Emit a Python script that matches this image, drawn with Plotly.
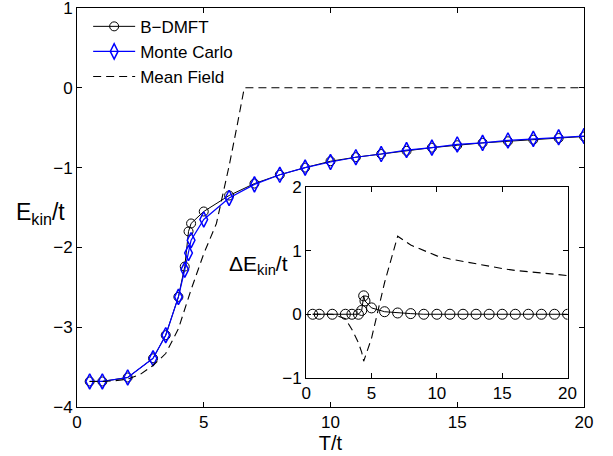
import plotly.graph_objects as go

# ---- data ----
T_bd = [0.5, 1, 2, 3, 3.5, 4, 4.25, 4.4, 4.5, 5, 6, 7, 8, 9, 10, 11, 12, 13, 14, 15, 16, 17, 18, 19, 20]
E_bdmft = [-3.68, -3.68, -3.63, -3.39, -3.10, -2.62, -2.24, -1.80, -1.70, -1.55, -1.35,
           -1.20, -1.09, -1.00, -0.92, -0.87, -0.83, -0.79, -0.75, -0.72, -0.69, -0.67, -0.65, -0.63, -0.61]
E_mc = [-3.68, -3.68, -3.63, -3.39, -3.10, -2.62, -2.28, -2.07, -1.91, -1.65, -1.38,
        -1.21, -1.09, -1.00, -0.93, -0.87, -0.83, -0.78, -0.75, -0.71, -0.69, -0.66, -0.64, -0.62, -0.605]

T_mf = [0.5, 1, 1.5, 2, 2.5, 3, 3.5, 4, 4.5, 5, 5.5, 6, 6.3, 6.6, 20]
E_mf = [-3.68, -3.68, -3.67, -3.65, -3.59, -3.48, -3.33, -3.02, -2.53, -2.08, -1.70, -0.98, -0.50, 0.0, 0.0]

# inset: differences
dE_bdmft = [0, 0, 0, 0, 0, 0, 0.06, 0.29, 0.21, 0.10, 0.04,
            0.02, 0.01, 0, 0, 0, 0, 0, 0, 0, 0, 0, 0, 0, 0]
dE_mf = [0, 0, 0, -0.07, -0.24, -0.45, -0.60, -0.74, -0.68, -0.38, 0.50,
         1.23, 1.09, 1.00, 0.92, 0.87, 0.83, 0.79, 0.75, 0.72, 0.69, 0.67, 0.65, 0.63, 0.61]

main_xticks = [0, 5, 10, 15, 20]
main_yticks = [-4, -3, -2, -1, 0, 1]
inset_xticks = [0, 5, 10, 15, 20]
inset_yticks = [-1, 0, 1, 2]

FONT = "Liberation Sans, Arial, Helvetica, sans-serif"
BLUE = "#0000ff"

fig = go.Figure()

fig.add_trace(go.Scatter(x=T_bd, y=E_bdmft, mode="lines+markers", name="B\u2212DMFT",
                         line=dict(color="black", width=1),
                         marker=dict(symbol="circle-open", size=9, color="black", line=dict(width=1)),
                         xaxis="x", yaxis="y"))
fig.add_trace(go.Scatter(x=T_bd, y=E_mc, mode="lines+markers", name="Monte Carlo",
                         line=dict(color=BLUE, width=1.2),
                         marker=dict(symbol="diamond-tall-open", size=11, color=BLUE, line=dict(width=1.5)),
                         xaxis="x", yaxis="y"))
fig.add_trace(go.Scatter(x=T_mf, y=E_mf, mode="lines", name="Mean Field",
                         line=dict(color="black", width=1.1, dash="8px,5px"),
                         xaxis="x", yaxis="y"))

# inset
fig.add_trace(go.Scatter(x=T_bd, y=dE_mf, mode="lines", showlegend=False,
                         line=dict(color="black", width=1.1, dash="8px,5px"),
                         xaxis="x2", yaxis="y2"))
fig.add_trace(go.Scatter(x=T_bd, y=dE_bdmft, mode="lines+markers", showlegend=False,
                         line=dict(color="black", width=1),
                         marker=dict(symbol="circle-open", size=10, color="black", line=dict(width=1)),
                         xaxis="x2", yaxis="y2"))

ax_common = dict(showline=True, linecolor="black", linewidth=1, mirror="ticks",
                 ticks="inside", ticklen=5, tickcolor="black", showgrid=False, zeroline=False,
                 automargin=False, ticklabeloverflow="allow",
                 tickfont=dict(family=FONT, size=17, color="black"))

fig.update_layout(
    width=613, height=456,
    margin=dict(l=77, r=29, t=8, b=49, autoexpand=False),
    paper_bgcolor="white", plot_bgcolor="white",
    font=dict(family=FONT, color="black"),
    xaxis=dict(range=[0, 20], tickvals=main_xticks, domain=[0, 1],
               title=dict(text="T/t", font=dict(family=FONT, size=20), standoff=0), **ax_common),
    yaxis=dict(range=[-4, 1], tickvals=main_yticks, domain=[0, 1], **ax_common),
    xaxis2=dict(range=[0, 20], tickvals=inset_xticks, domain=[0.452, 0.9676], anchor="y2", **ax_common),
    yaxis2=dict(range=[-1, 2], tickvals=inset_yticks, domain=[0.0734, 0.5506], anchor="x2", **ax_common),
    legend=dict(x=0.022, y=0.998, xanchor="left", yanchor="top", bgcolor="rgba(0,0,0,0)",
                font=dict(family=FONT, size=17, color="black"), itemwidth=42, tracegroupgap=0),
    showlegend=True,
    annotations=[
        dict(text="E<sub>kin</sub>/t", xref="paper", yref="paper", x=-0.124, y=0.485,
             xanchor="left", yanchor="middle", showarrow=False,
             font=dict(family=FONT, size=23, color="black")),
        dict(text="\u0394E<sub>kin</sub>/t", xref="paper", yref="paper", x=0.296, y=0.355,
             xanchor="left", yanchor="middle", showarrow=False,
             font=dict(family=FONT, size=21, color="black")),
    ],
)

fig.write_html("out.html")
